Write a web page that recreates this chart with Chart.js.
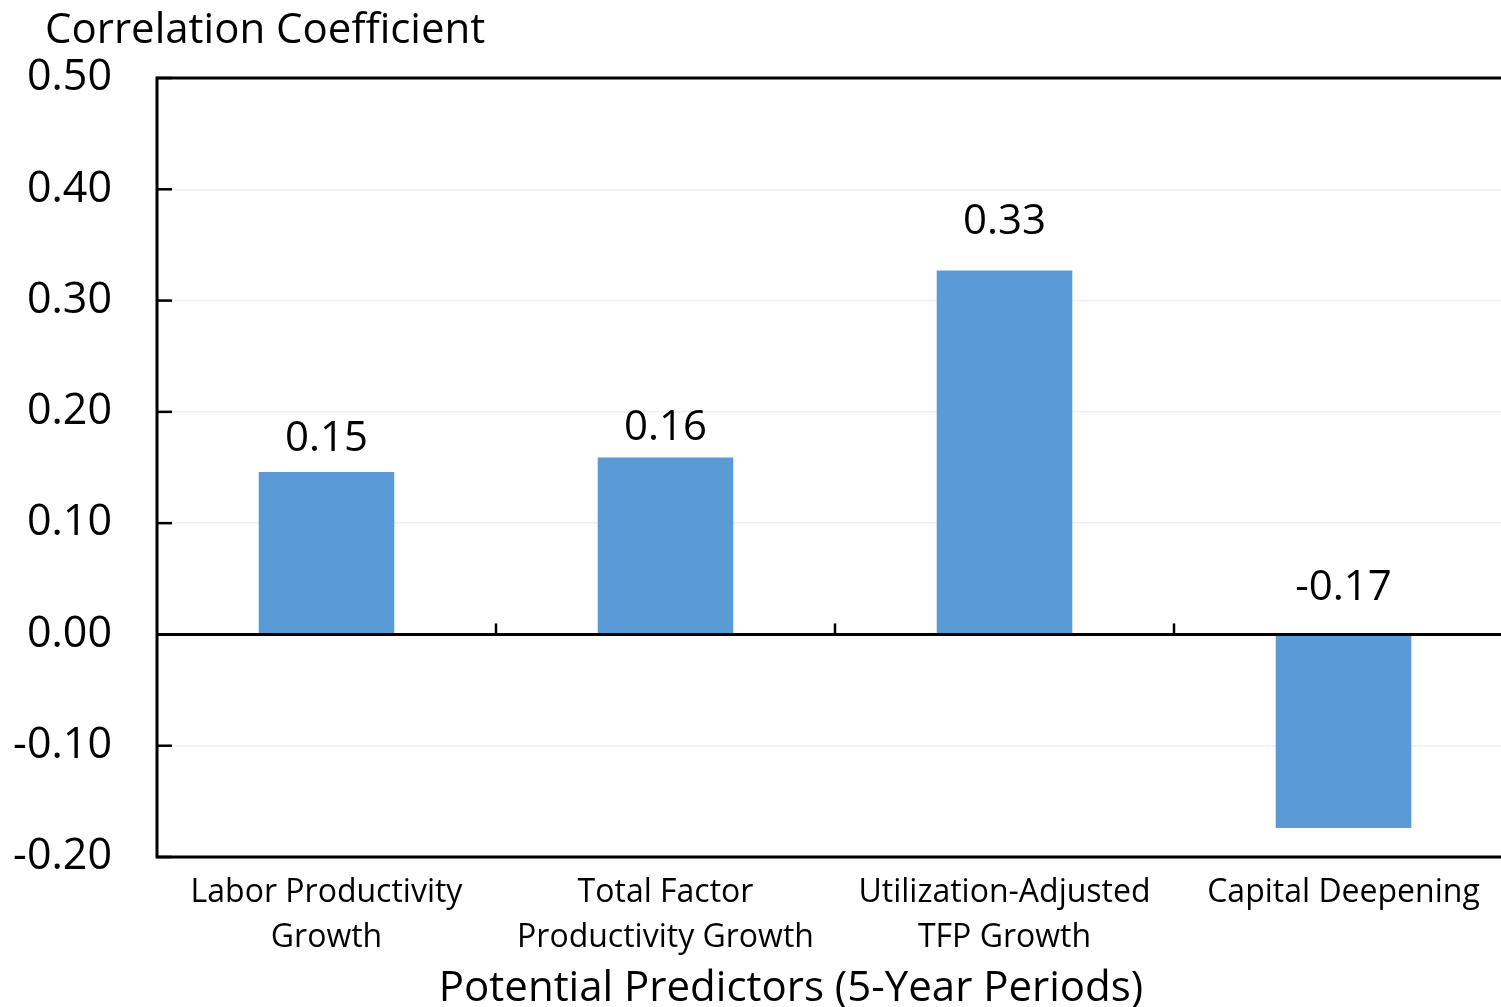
<!DOCTYPE html>
<html>
<head>
<meta charset="utf-8">
<script src="https://cdn.jsdelivr.net/npm/chart.js@4"></script>
<style>
html,body{margin:0;padding:0;background:#fff;overflow:hidden;}
#wrap{width:1525px;height:1007px;}
</style>
</head>
<body>
<div id="wrap"><canvas id="c" width="1525" height="1007" style="width:1525px;height:1007px"></canvas></div>
<script>
const categories = [["Labor Productivity","Growth"],["Total Factor","Productivity Growth"],["Utilization-Adjusted","TFP Growth"],["Capital Deepening"]];
const correlations = [0.146, 0.159, 0.327, -0.174];
const yTicks = [0.5, 0.4, 0.3, 0.2, 0.1, 0, -0.1, -0.2];
const yTitle = "Correlation Coefficient";
const xTitle = "Potential Predictors (5-Year Periods)";
const labelGap = [21, 17, 37, 35];

const FONT = "'Open Sans', 'Noto Sans', sans-serif";

const framePlugin = {
  id: 'frame',
  afterDatasetsDraw(chart) {
    const {ctx, chartArea: a, scales: {x, y}} = chart;
    ctx.save();
    ctx.strokeStyle = '#000';
    ctx.lineWidth = 3;
    ctx.beginPath();
    ctx.moveTo(a.right, a.top); ctx.lineTo(a.left, a.top);
    ctx.lineTo(a.left, a.bottom); ctx.lineTo(a.right, a.bottom);
    ctx.stroke();
    const y0 = y.getPixelForValue(0);
    ctx.beginPath(); ctx.moveTo(a.left, y0); ctx.lineTo(a.right, y0); ctx.stroke();
    ctx.lineWidth = 2.5;
    yTicks.forEach(v => {
      const py = y.getPixelForValue(v);
      ctx.beginPath(); ctx.moveTo(a.left, py); ctx.lineTo(a.left + 15, py); ctx.stroke();
    });
    for (let i = 1; i < categories.length; i++) {
      const px = (x.getPixelForValue(i - 1) + x.getPixelForValue(i)) / 2;
      ctx.beginPath(); ctx.moveTo(px, y0); ctx.lineTo(px, y0 - 11); ctx.stroke();
    }
    ctx.fillStyle = '#000';
    ctx.font = "42px " + FONT;
    ctx.textAlign = 'center';
    ctx.textBaseline = 'alphabetic';
    chart.getDatasetMeta(0).data.forEach((bar, i) => {
      const top = Math.min(bar.y, bar.base);
      ctx.fillText(correlations[i].toFixed(2), bar.x, top - labelGap[i]);
    });
    ctx.textAlign = 'left';
    ctx.font = "42px " + FONT;
    ctx.fillText(yTitle, 45, 43);
    ctx.textAlign = 'center';
    ctx.font = "42px " + FONT;
    ctx.fillText(xTitle, 791, 1001);
    ctx.restore();
  }
};

new Chart(document.getElementById('c'), {
  type: 'bar',
  data: {
    labels: categories,
    datasets: [{
      data: correlations,
      backgroundColor: '#5b9bd5',
      borderWidth: 0,
      barPercentage: 0.4,
      categoryPercentage: 1.0
    }]
  },
  options: {
    responsive: false,
    animation: false,
    devicePixelRatio: 1,
    layout: {padding: {top: 78, right: 12, left: 0, bottom: 0}},
    plugins: {legend: {display: false}, tooltip: {enabled: false}, title: {display: false}},
    scales: {
      x: {
        grid: {display: false, drawTicks: false},
        border: {display: false},
        ticks: {color: '#000', font: {family: FONT, size: 32, lineHeight: 1.42}, padding: 13, maxRotation: 0, autoSkip: false},
        afterFit(s) { s.height = 150; }
      },
      y: {
        min: -0.2, max: 0.5,
        afterBuildTicks(s) { s.ticks = yTicks.map(v => ({value: v})); },
        grid: {color: '#f0f0f0', lineWidth: 1.5, drawTicks: false},
        border: {display: false},
        ticks: {color: '#000', font: {family: FONT, size: 43}, padding: 45, callback: v => v.toFixed(2)},
        afterFit(s) { s.width = 157; }
      }
    }
  },
  plugins: [framePlugin]
});
</script>
</body>
</html>
